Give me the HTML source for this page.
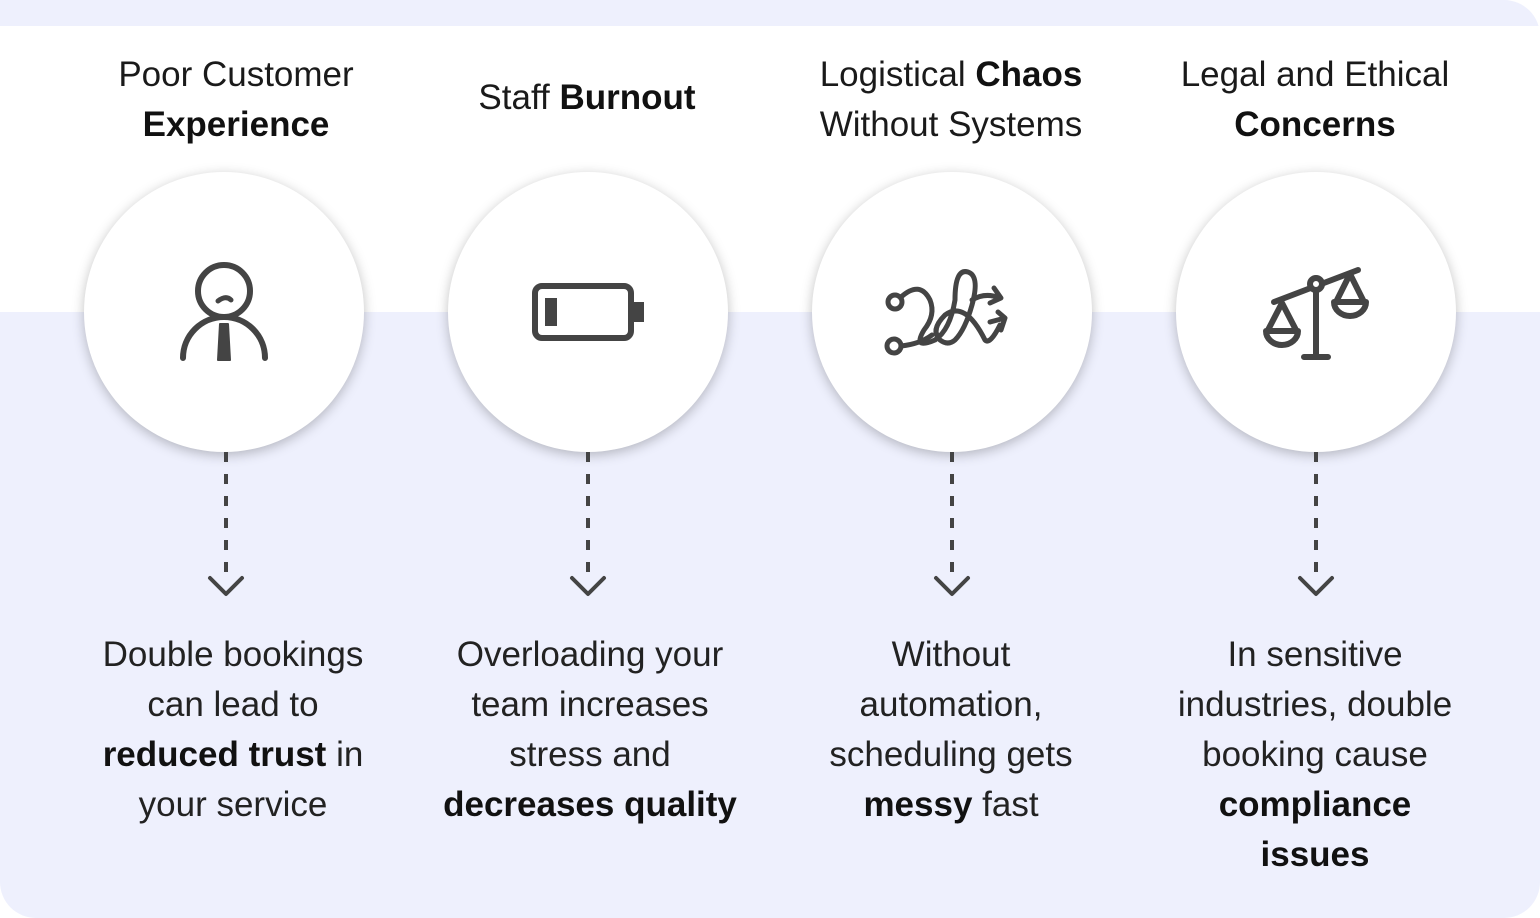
<!DOCTYPE html>
<html><head><meta charset="utf-8"><style>
html,body{margin:0;padding:0;}
body{width:1540px;height:918px;position:relative;overflow:hidden;background:#fff;font-family:"Liberation Sans",sans-serif;color:#1a1a1a;}
.top{position:absolute;left:0;top:0;width:1540px;height:60px;background:#eef0fd;border-radius:0 36px 0 0;}
.white{position:absolute;left:0;top:26px;width:1540px;height:286px;background:#fff;}
.bot{position:absolute;left:0;top:312px;width:1540px;height:606px;background:#eef0fd;border-radius:0 0 36px 36px;}
.t{position:absolute;width:360px;text-align:center;font-size:35px;line-height:50px;}
.b{position:absolute;width:360px;text-align:center;font-size:35px;line-height:50px;color:#222;}
b{font-weight:700;color:#111;}
.c{position:absolute;width:280px;height:280px;border-radius:50%;background:#fff;box-shadow:0 3px 12px rgba(0,0,0,0.25);top:172px;}
svg.ov{position:absolute;left:0;top:0;}
</style></head><body>
<div class="top"></div><div class="white"></div><div class="bot"></div>
<div class="t" style="left:56px;top:50px">Poor Customer<br><b>Experience</b></div>
<div class="t" style="left:407px;top:73px">Staff <b>Burnout</b></div>
<div class="t" style="left:771px;top:50px">Logistical <b>Chaos</b><br>Without Systems</div>
<div class="t" style="left:1135px;top:50px">Legal and Ethical<br><b>Concerns</b></div>
<div class="c" style="left:84px"></div>
<div class="c" style="left:448px"></div>
<div class="c" style="left:812px"></div>
<div class="c" style="left:1176px"></div>
<svg class="ov" width="1540" height="918" fill="none" stroke="#444" stroke-width="6" stroke-linecap="round" stroke-linejoin="round">
<!-- person -->
<circle cx="224" cy="291" r="26"/>
<path d="M183 358 A41 41 0 0 1 265 358"/>
<path d="M218 301 Q226 295 231 300" stroke-width="5"/>
<path d="M220 324 L228 324 L230 360 L218 360 Z" fill="#444" stroke-width="2"/>
<!-- battery -->
<rect x="535" y="286" width="96" height="52" rx="7"/>
<rect x="545" y="298" width="12" height="28" fill="#444" stroke="none"/>
<rect x="634" y="302" width="10" height="20" fill="#444" stroke="none"/>
<!-- chaos -->
<circle cx="895" cy="302" r="7" stroke-width="5"/>
<circle cx="894" cy="346" r="7" stroke-width="5"/>
<path d="M901 297 Q920 280 930 300 Q936 315 924 330 Q912 350 935 340 Q950 330 955 300 Q955 268 968 272 Q980 276 972 305 Q965 330 955 340 Q948 346 940 340 Q930 330 945 315 Q965 300 985 340 Q990 345 1000 325" stroke-width="5"/>
<path d="M901 346 Q920 344 932 335" stroke-width="5"/>
<path d="M972 300 Q985 292 1000 298 M994 288 L1001 298 L990 303" stroke-width="5"/>
<path d="M990 322 L1005 318 M998 312 L1005 318 L1001 330" stroke-width="5"/>
<!-- scales -->
<path d="M1274 302 L1358 270"/>
<circle cx="1316" cy="284" r="6" fill="#fff"/>
<path d="M1316 290 L1316 357 M1304 357 L1328 357"/>
<path d="M1282 303 L1268 330 M1282 303 L1296 330 M1266 331 A16 14 0 0 0 1298 331 Z"/>
<path d="M1350 274 L1336 302 M1350 274 L1364 302 M1334 302 A16 14 0 0 0 1366 302 Z"/>
<!-- dashed arrows -->
<g stroke-width="4" stroke-dasharray="10 12" stroke-linecap="butt">
<path d="M226 452 L226 572"/><path d="M588 452 L588 572"/><path d="M952 452 L952 572"/><path d="M1316 452 L1316 572"/>
</g>
<g stroke-width="4">
<path d="M210 578 L226 594 L242 578"/><path d="M572 578 L588 594 L604 578"/><path d="M936 578 L952 594 L968 578"/><path d="M1300 578 L1316 594 L1332 578"/>
</g>
</svg>
<div class="b" style="left:53px;top:630px">Double bookings<br>can lead to<br><b>reduced trust</b> in<br>your service</div>
<div class="b" style="left:410px;top:630px">Overloading your<br>team increases<br>stress and<br><b>decreases quality</b></div>
<div class="b" style="left:771px;top:630px">Without<br>automation,<br>scheduling gets<br><b>messy</b> fast</div>
<div class="b" style="left:1135px;top:630px">In sensitive<br>industries, double<br>booking cause<br><b>compliance<br>issues</b></div>
</body></html>
